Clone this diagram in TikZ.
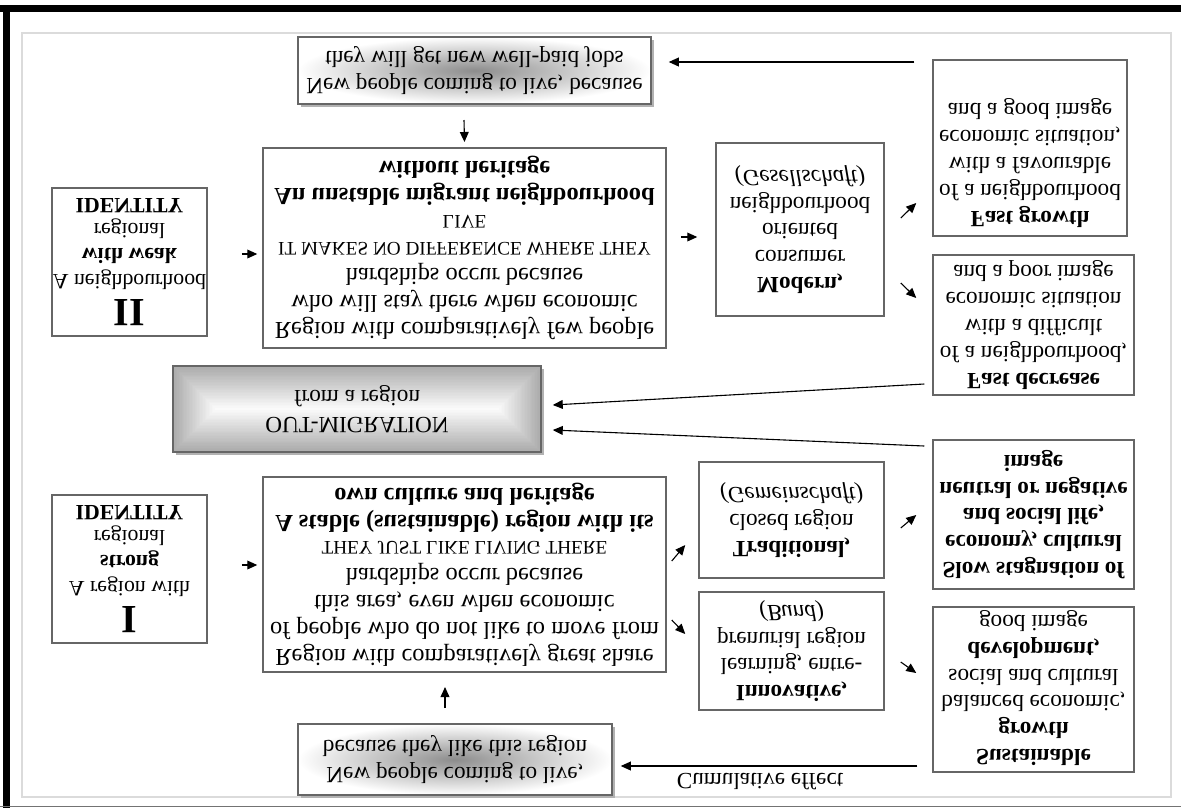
\documentclass[tikz,border=0pt]{standalone}
\usepackage{fontspec}
\setmainfont{Liberation Serif}
\usetikzlibrary{arrows.meta,calc}
\tikzset{
 fnt/.style={font=\fontsize{11.6}{13.4}\selectfont},
 bigfnt/.style={font=\fontsize{12.2}{13.4}\selectfont},
 idfnt/.style={font=\fontsize{10.9}{12.6}\selectfont},
 box/.style={draw=black!60, line width=0.75pt, fill=white, align=center, inner sep=0pt, fnt},
 txt/.style={align=center, inner sep=0pt, fnt},
 grad/.style={box, shade, inner color=black!45, outer color=white},
 arr/.style={draw=black, line width=0.55pt, -{Triangle[length=5pt,width=4.4pt]}},
 shadowbox/.style={fill=black!30},
}
\newcommand{\capsline}[1]{{\fontsize{9.6}{13.4}\selectfont #1}}
\newcommand{\bigroman}[1]{{\fontsize{20}{21}\selectfont\bfseries #1}}
\begin{document}
\begin{tikzpicture}[x=0.5pt,y=-0.5pt,every node/.append style={yscale=-1}]
\useasboundingbox (0,0) rectangle (1181,810);
% frame
\fill[black] (0,5) rectangle (1181,12);
\fill[black] (3,5) rectangle (10,808);
\draw[black!55, line width=0.8pt] (0,806.5) -- (1181,806.5);
\draw[black!14, line width=0.6pt] (22,33) rectangle (1171,797);
% shadows
\fill[shadowbox] (301,40) rectangle (654,107);
\fill[shadowbox] (301,727) rectangle (615,798);
\fill[shadowbox] (176,369) rectangle (544,455);
% out-migration bevel gradient
\foreach \i in {0,...,29}{
  \pgfmathsetmacro{\d}{\i*43/30}
  \pgfmathsetmacro{\c}{33-\i*31/29}
  \fill[black!\c] ({173+\d},{366+\d}) rectangle ({541-\d},{452-\d});
}
\node[box, fill=none, minimum width=184pt, minimum height=43pt] (om) at (357,409) {OUT-MIGRATION\\from a region};
% boxes
\node[grad, minimum width=176.5pt, minimum height=33.5pt] (top) at (474.5,70.5) {New people coming to live, because\\they will get new well-paid jobs};
\node[box, idfnt, minimum width=77.5pt, minimum height=74pt] (id2) at (129.5,262) {\bigroman{II}\\A neighbourhood\\\textbf{with weak}\\regional\\\textbf{IDENTITY}};
\node[box, bigfnt, minimum width=201.5pt, minimum height=100pt] (b2) at (464.5,248) {Region with comparatively few people\\who will stay there when economic\\hardships occur because\\\capsline{IT MAKES NO DIFFERENCE WHERE THEY}\\\capsline{LIVE}\\\textbf{An unstable migrant neighbourhood}\\\textbf{without heritage}};
\node[box, minimum width=84pt, minimum height=86.5pt] (modern) at (800,229.5) {\textbf{Modern,}\\consumer\\oriented\\neighbourhood\\\textit{(Gesellschaft)}};
\node[box, minimum width=97pt, minimum height=88pt] (fg) at (1030,148) {};
\node[txt] (fgt) at (1030,163) {\textbf{Fast growth}\\of a neighbourhood\\with a favourable\\economic situation,\\and a good image};
\node[box, minimum width=100.5pt, minimum height=70pt] (fd) at (1033.5,325) {\textbf{Fast decrease}\\of a neighbourhood,\\with a difficult\\economic situation\\and a poor image};
\node[box, minimum width=100.5pt, minimum height=74.5pt] (ss) at (1033.5,514.5) {\textbf{Slow stagnation of}\\\textbf{economy, cultural}\\\textbf{and social life,}\\\textbf{neutral or negative}\\\textbf{image}};
\node[box, minimum width=100.5pt, minimum height=82.5pt] (sus) at (1033.5,689.5) {};
\node[txt] (sust) at (1033.5,688) {\textbf{Sustainable}\\\textbf{growth}\\balanced economic,\\social and cultural\\\textbf{development,}\\good image};
\node[box, minimum width=92.5pt, minimum height=58pt] (trad) at (791.5,520) {\textbf{Traditional,}\\closed region\\\textit{(Gemeinschaft)}};
\node[box, minimum width=92.5pt, minimum height=59pt] (innov) at (791.5,651) {\textbf{Innovative,}\\learning, entre-\\prenurial region\\\textit{(Bund)}};
\node[box, idfnt, minimum width=77.5pt, minimum height=74pt] (id1) at (129.5,569) {\bigroman{I}\\A region with\\\textbf{strong}\\regional\\\textbf{IDENTITY}};
\node[box, bigfnt, minimum width=201.5pt, minimum height=97.5pt] (b1) at (464.5,574.5) {Region with comparatively great share\\of people who do not like to move from\\this area, even when economic\\hardships occur because\\\capsline{THEY JUST LIKE LIVING THERE}\\\textbf{A stable (sustainable) region with its}\\\textbf{own culture and heritage}};
\node[grad, minimum width=157pt, minimum height=35.5pt] (bot) at (455,759.5) {New people coming to live,\\because they like this region};
\node[txt] (cum) at (760,782) {Cumulative effect};
% connectors
\draw[arr] ($(fg.west)+(-18,-86)$) -- ($(top.east)+(17,-8.5)$);
\draw[arr] ($(top.center)+(-10.5,49.5)$) -- ($(b2.center)+(0,-106)$);
\draw[arr] ($(id2.east)+(34,-8)$) -- ($(b2.west)+(-5,6)$);
\draw[arr] ($(b2.east)+(14,-11)$) -- ($(modern.west)+(-18,7.5)$);
\draw[arr] ($(modern.east)+(16,-11.5)$) -- ($(fg.west)+(-16,55)$);
\draw[arr] ($(modern.east)+(16,53.5)$) -- ($(fd.west)+(-16,-27)$);
\draw[arr] ($(fd.west)+(-8,59)$) -- ($(om.east)+(11,-4)$);
\draw[arr] ($(ss.west)+(-8,-68.5)$) -- ($(om.east)+(11,21)$);
\draw[arr] ($(id1.east)+(34,-4)$) -- ($(b1.west)+(-5,-9.5)$);
\draw[arr] ($(b1.east)+(5,-13.5)$) -- ($(trad.west)+(-13,25)$);
\draw[arr] ($(b1.east)+(5,45.5)$) -- ($(innov.west)+(-13,-17)$);
\draw[arr] ($(trad.east)+(16,8)$) -- ($(ss.west)+(-16,0.5)$);
\draw[arr] ($(innov.east)+(16,11)$) -- ($(sus.west)+(-16,-16.5)$);
\draw[arr] ($(bot.center)+(-10,-51.5)$) -- ($(b1.center)+(-19.5,112.5)$);
\draw[arr] ($(sus.west)+(-15,76.5)$) -- ($(bot.east)+(8,6.5)$);
\end{tikzpicture}
\end{document}
